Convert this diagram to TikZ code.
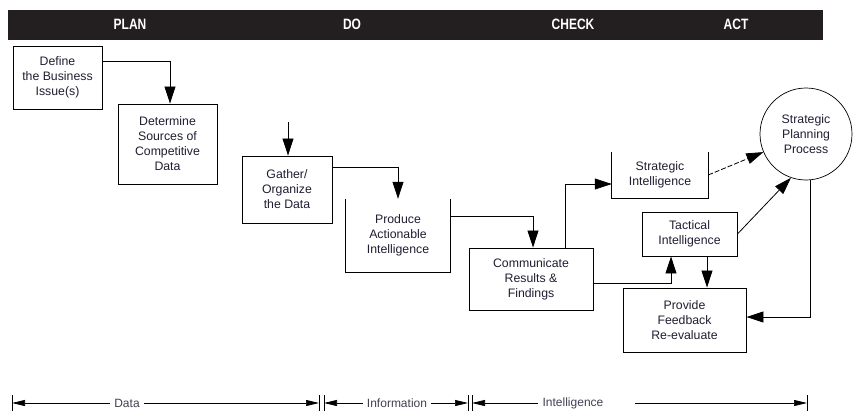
\documentclass[tikz,border=0pt]{standalone}
\usepackage{fontspec}
\setmainfont{Liberation Sans}
\newfontfamily\headfont[FakeStretch=0.8]{Liberation Sans}
\usetikzlibrary{arrows.meta}
\definecolor{txt}{RGB}{30,30,50}
\definecolor{bar}{RGB}{35,31,32}
\begin{document}
\begin{tikzpicture}[x=1pt,y=-1pt,
  box/.style={draw, line width=0.9pt, align=center, inner sep=0pt, text=txt,
    font=\fontsize{12.3}{15}\selectfont},
  openbox/.style={align=center, inner sep=0pt, text=txt,
    font=\fontsize{12.3}{15}\selectfont},
  head/.style={text=white, font=\headfont\bfseries\fontsize{15}{17}\selectfont},
  arr/.style={-{Triangle[length=17pt,width=11pt]}, line width=0.8pt},
  dim/.style={-{Triangle[length=13pt,width=6pt]}, line width=0.7pt},
  lbl/.style={text=txt!85, inner sep=4pt, font=\fontsize{12}{13}\selectfont},
  tick/.style={line width=0.8pt}]
\useasboundingbox (0,0) rectangle (856,412);
\fill[bar] (8,10) rectangle (823,40);
\node[head] (plan) at (130,24) {PLAN};
\node[head] (do) at (352,24) {DO};
\node[head] (check) at (573,24) {CHECK};
\node[head] (act) at (736,24) {ACT};

\node[box, minimum width=89pt, minimum height=63pt] (define) at (57.5,77.5) {Define\\the Business\\Issue(s)};
\node[box, minimum width=99pt, minimum height=80pt] (determine) at (167.5,144) {Determine\\Sources of\\Competitive\\Data};
\node[box, minimum width=90pt, minimum height=67pt] (gather) at (287,189.5) {Gather/\\Organize\\the Data};
\node[openbox, minimum width=104pt, minimum height=73pt] (produce) at (398,235.5) {Produce\\Actionable\\Intelligence};
\draw[line width=0.9pt] (produce.north west) -- (produce.south west) -- (produce.south east) -- (produce.north east);
\node[box, minimum width=124pt, minimum height=62pt] (comm) at (531,279) {Communicate\\Results \&\\Findings};
\node[openbox, minimum width=96pt, minimum height=46pt] (strat) at (660,175) {Strategic\\Intelligence};
\draw[line width=0.9pt] (strat.north west) -- (strat.south west) -- (strat.south east) -- (strat.north east);
\node[box, minimum width=95pt, minimum height=44pt] (tact) at (689.5,234) {Tactical\\Intelligence};
\node[box, minimum width=123pt, minimum height=64pt] (provide) at (684.5,320) {Provide\\Feedback\\Re-evaluate};
\node[box, circle, minimum size=92pt, line width=0.7pt] (spp) at (806,134) {Strategic\\Planning\\Process};

\draw[arr] ([yshift=16.5pt]define.east) -| ([xshift=2.5pt]determine.north);
\coordinate (gin) at (288,122);
\draw[arr] (gin) -- (gin |- gather.north);
\draw[arr] ([yshift=22.5pt]gather.east) -| (produce.north);
\draw[arr] ([yshift=19.5pt]produce.east) -| ([xshift=2pt]comm.north);
\draw[arr] ([xshift=34pt]comm.north) |- ([yshift=-9pt]strat.west);
\draw[arr] ([yshift=-4pt]comm.east) -| ([xshift=-18.5pt]tact.south);
\draw[arr] ([xshift=17.5pt]tact.south) -- ([xshift=22.5pt]provide.north);
\draw[arr, dash pattern=on 5pt off 2pt] (strat.east) -- (spp.203);
\draw[arr] (tact.east) -- (spp.251);
\draw[arr] (spp.276) |- ([yshift=3pt]provide.east);

% bottom scale
\foreach \n/\x in {b1/12,b2/319,b3/324,b4/468,b5/472,b6/807}{
  \coordinate (\n) at (\x,403);
  \draw[tick] (\x,395) -- (\x,411);
}
\node[lbl] (data) at (127,403) {Data};
\node[lbl] (info) at (397,403) {Information};
\node[lbl] (intel) at (573,403) {Intelligence};
\coordinate (irest) at (635,403);
\draw[dim] (data.west) -- (b1);
\draw[dim] (data.east) -- (b2);
\draw[dim] (info.west) -- (b3);
\draw[dim] (info.east) -- (b4);
\draw[dim] (intel.west) -- (b5);
\draw[dim] (irest) -- (b6);
\end{tikzpicture}
\end{document}
